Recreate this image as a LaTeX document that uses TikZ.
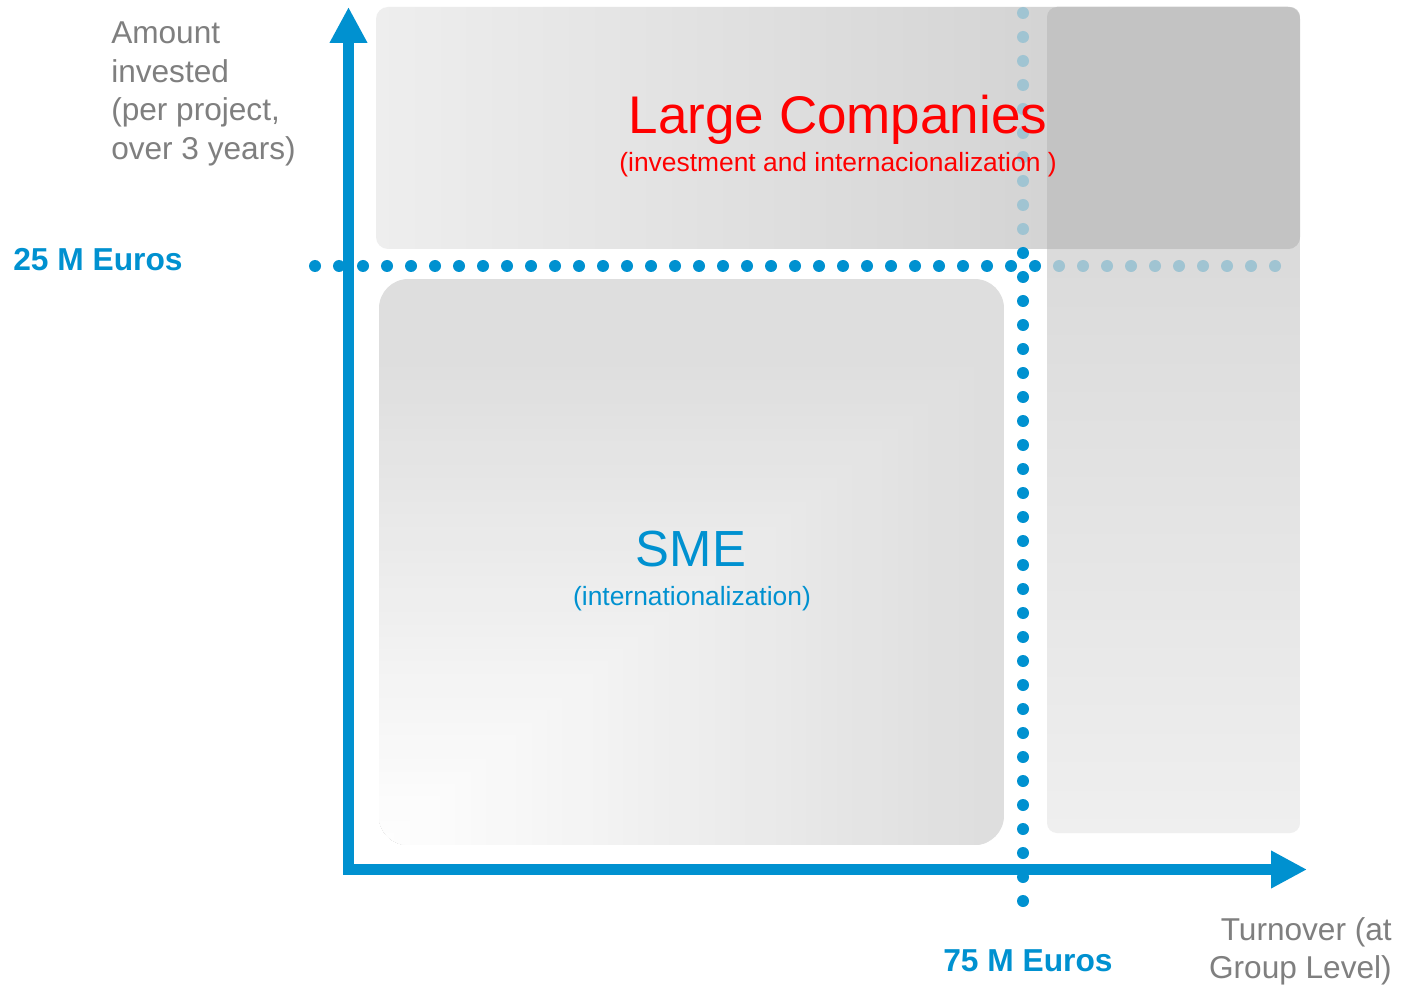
\documentclass[tikz,border=0pt]{standalone}
\usepackage{fontspec}
\setmainfont{Liberation Sans}
\usetikzlibrary{arrows.meta}
\definecolor{axisblue}{RGB}{0,145,208}
\definecolor{paleblue}{RGB}{160,196,210}
\definecolor{labelgray}{RGB}{127,127,127}
\definecolor{lcred}{RGB}{255,0,0}
\definecolor{lcleft}{RGB}{238,238,238}
\definecolor{lcright}{RGB}{202,202,202}
\definecolor{coltop}{RGB}{210,210,210}
\definecolor{colbot}{RGB}{239,239,239}
\definecolor{overlapgray}{RGB}{195,195,195}
\definecolor{smegray}{RGB}{222,222,222}
\begin{document}
\begin{tikzpicture}[x=0.75pt,y=-0.75pt,
  axis/.style={line width=8.6pt, draw=axisblue,
    arrows={Triangle[length=27pt,width=26.5pt]-Triangle[length=27pt,width=26.5pt]}},
  dotb/.style={fill=axisblue},
  dotp/.style={fill=paleblue},
  lbl/.style={text=labelgray, font=\fontsize{23.7pt}{28.9pt}\selectfont, inner sep=0pt},
  vallbl/.style={text=axisblue, font=\bfseries\fontsize{23.8pt}{28pt}\selectfont, inner sep=0pt},
  bigtitle/.style={inner sep=0pt, anchor=base},
  subtitle/.style={inner sep=0pt, anchor=base, font=\fontsize{19.8pt}{24pt}\selectfont}]
\useasboundingbox (0,0) rectangle (1405,987);
\fill[white] (0,0) rectangle (1405,987);

% right column box (large turnover)
\shade[rounded corners=7.5pt, top color=coltop, bottom color=colbot]
  (1047,7) rectangle (1300,833);

% Large companies box
\shade[rounded corners=9pt, left color=lcleft, right color=lcright]
  (376,7) rectangle (1300,249);
% overlap of both boxes
\begin{scope}
  \clip[rounded corners=9pt] (376,7) rectangle (1300,249);
  \fill[overlapgray, rounded corners=7.5pt] (1047,7) rectangle (1300,833);
\end{scope}

% SME box with rectangular gradient from bottom-left corner
\begin{scope}
  \clip[rounded corners=22pt] (379,279) rectangle (1004,845);
  \fill[smegray] (379,279) rectangle (1004,845);
  \foreach \i in {40,39,...,1} {
    \pgfmathsetmacro\pc{2.5*\i}
    \fill[smegray!\pc!white] (379,845) rectangle ({379+15.25*\i},{845-12.25*\i});
  }
\end{scope}

% dotted threshold lines
\foreach \k in {0,...,30} \fill[dotb] ({315+24*\k},266) circle (4.5pt);
\foreach \k in {31,...,40} \fill[dotp] ({315+24*\k},266) circle (4.5pt);
\foreach \k in {0,...,9} \fill[dotp] (1023,{13+24*\k}) circle (4.5pt);
\foreach \k in {10,...,37} \fill[dotb] (1023,{13+24*\k}) circle (4.5pt);

% axes
\coordinate (ytip) at (348.5,7);
\coordinate (origin) at (348.5,869.5);
\coordinate (xtip) at (1307,869.5);
\draw[axis] (ytip) -- (origin) -- (xtip);

% labels
\node[lbl, anchor=north west, align=left] (ylabel) at (111,21.5)
  {Amount\\invested\\(per project,\\over 3 years)};
\node[lbl, anchor=north east, align=right] (xlabel) at (1392,917)
  {Turnover (at\\Group Level)};
\node[vallbl, anchor=base west] (yval) at (13,271) {25 M Euros};
\node[vallbl, anchor=base west] (xval) at (943,971) {75 M Euros};

\node[bigtitle, text=lcred, font=\fontsize{39.75pt}{46pt}\selectfont] (lc) at (838,134) {Large Companies};
\node[subtitle, text=lcred] (lcsub) at (838,171.5) {(investment and internacionalization )};
\node[bigtitle, text=axisblue, font=\fontsize{38.1pt}{44pt}\selectfont] (sme) at (691,566) {SME};
\node[subtitle, text=axisblue] (smesub) at (692,605) {(internationalization)};
\end{tikzpicture}
\end{document}
